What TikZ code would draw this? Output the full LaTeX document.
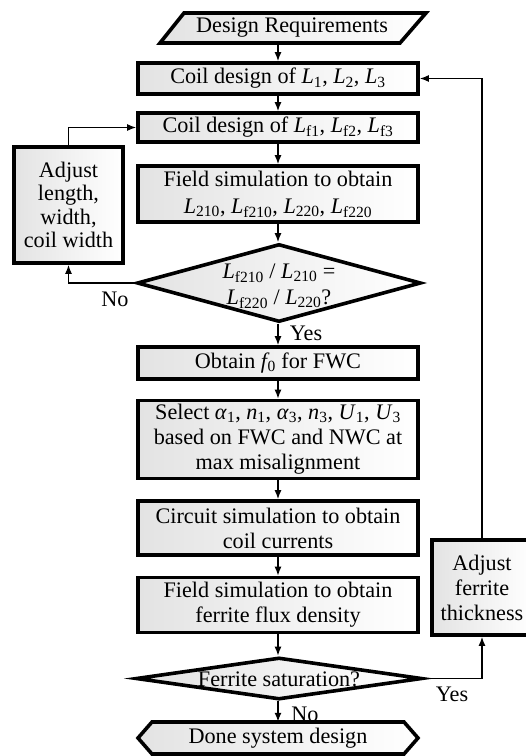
\documentclass[tikz,border=0pt]{standalone}
\usepackage{fontspec}
\setmainfont{Liberation Serif}
\usetikzlibrary{arrows.meta,shapes.geometric}
\newcommand\Ls[1]{\textit{L}\textsubscript{#1}}
\newcommand\Vs[2]{\textit{#1}\textsubscript{#2}}
\begin{document}
\begin{tikzpicture}[x=1pt,y=-1pt,
  font=\fontsize{22.2}{25}\selectfont,
  shadefill/.style={left color=black!11, right color=white},
  procbox/.style={draw, line width=3.6pt, shadefill, align=center, inner sep=0pt, minimum width=280pt},
  decbox/.style={diamond, draw, line width=3.6pt, shadefill, inner sep=0pt},
  lbl/.style={inner sep=0pt, align=center},
  arr/.style={line width=1.5pt, -{Latex[length=9pt,width=7pt]}},
]
\useasboundingbox (0,0) rectangle (526,756);

% start parallelogram
\draw[line width=3.6pt, shadefill] (160,43) -- (184,13) -- (426,13) -- (400,43) -- cycle;
\node[lbl, minimum width=240pt, minimum height=30pt] (req) at (292,28) {Design Requirements};

\node[procbox, minimum height=31pt] (coil1) at (278,78.5) {Coil design of \Ls{1}, \Ls{2}, \Ls{3}};
\node[procbox, minimum height=29pt] (coil2) at (278,127.5) {Coil design of \Ls{f1}, \Ls{f2}, \Ls{f3}};
\node[procbox, minimum height=56pt] (field1) at (278,194) {Field simulation to obtain\\[2pt]\Ls{210}, \Ls{f210}, \Ls{220}, \Ls{f220}};

\node[decbox, minimum width=284pt, minimum height=78pt] (d1) at (279,283) {};
\node[lbl] (d1t) at (279,286) {\Ls{f210} / \Ls{210} =\\[1pt]\Ls{f220} / \Ls{220}?};

\node[procbox, minimum height=32pt] (obtain) at (278,363) {Obtain \textit{f}\kern-2pt\textsubscript{0} for FWC};
\node[procbox, minimum height=78pt] (select) at (278,439.5) {Select \Vs{α}{1}, \Vs{n}{1}, \Vs{α}{3}, \Vs{n}{3}, \Vs{U}{1}, \Vs{U}{3}\\based on FWC and NWC at\\max misalignment};
\node[procbox, minimum height=54pt] (circuit) at (278,528) {Circuit simulation to obtain\\coil currents};
\node[procbox, minimum height=55pt] (field2) at (278,605) {Field simulation to obtain\\ferrite flux density};

\node[decbox, minimum width=286pt, minimum height=42pt] (d2) at (279,678.5) {};
\node[lbl] (d2t) at (279,679) {Ferrite saturation?};

% end hexagon
\draw[line width=3.6pt, shadefill] (138,738) -- (152,722) -- (404,722) -- (418,738) -- (404,754) -- (152,754) -- cycle;
\node[lbl, minimum width=280pt, minimum height=32pt] (done) at (278,738) {Done system design};

\node[procbox, minimum width=109pt, minimum height=116pt, font=\fontsize{22.2}{23.4}\selectfont] (adj1) at (68.5,205) {Adjust\\length,\\width,\\coil width};
\node[procbox, minimum width=100pt, minimum height=95pt] (adj2) at (482,587.5) {Adjust\\ferrite\\thickness};

% labels
\node[lbl] (yes1) at (306,333) {Yes};
\node[lbl] (no1) at (115,299) {No};
\node[lbl] (yes2) at (452,694) {Yes};
\node[lbl] (no2) at (305,714) {No};

% connectors
\draw[arr] (req.south -| coil1.north) -- (coil1.north);
\draw[arr] (coil1) -- (coil2);
\draw[arr] (coil2) -- (field1);
\draw[arr] (field1.south) -- (field1.south |- d1.north);
\draw[arr] (d1.south -| obtain.north) -- (obtain.north);
\draw[arr] (obtain) -- (select);
\draw[arr] (select) -- (circuit);
\draw[arr] (circuit) -- (field2);
\draw[arr] (field2.south) -- (field2.south |- d2.north);
\draw[arr] (d2.south -| done.north) -- (done.north);
\draw[arr] (d1.west) -| (adj1.south);
\draw[arr] (adj1.north) |- (coil2.west);
\draw[arr] (d2.east) -| (adj2.south);
\draw[arr] (adj2.north) |- (coil1.east);
\end{tikzpicture}
\end{document}
